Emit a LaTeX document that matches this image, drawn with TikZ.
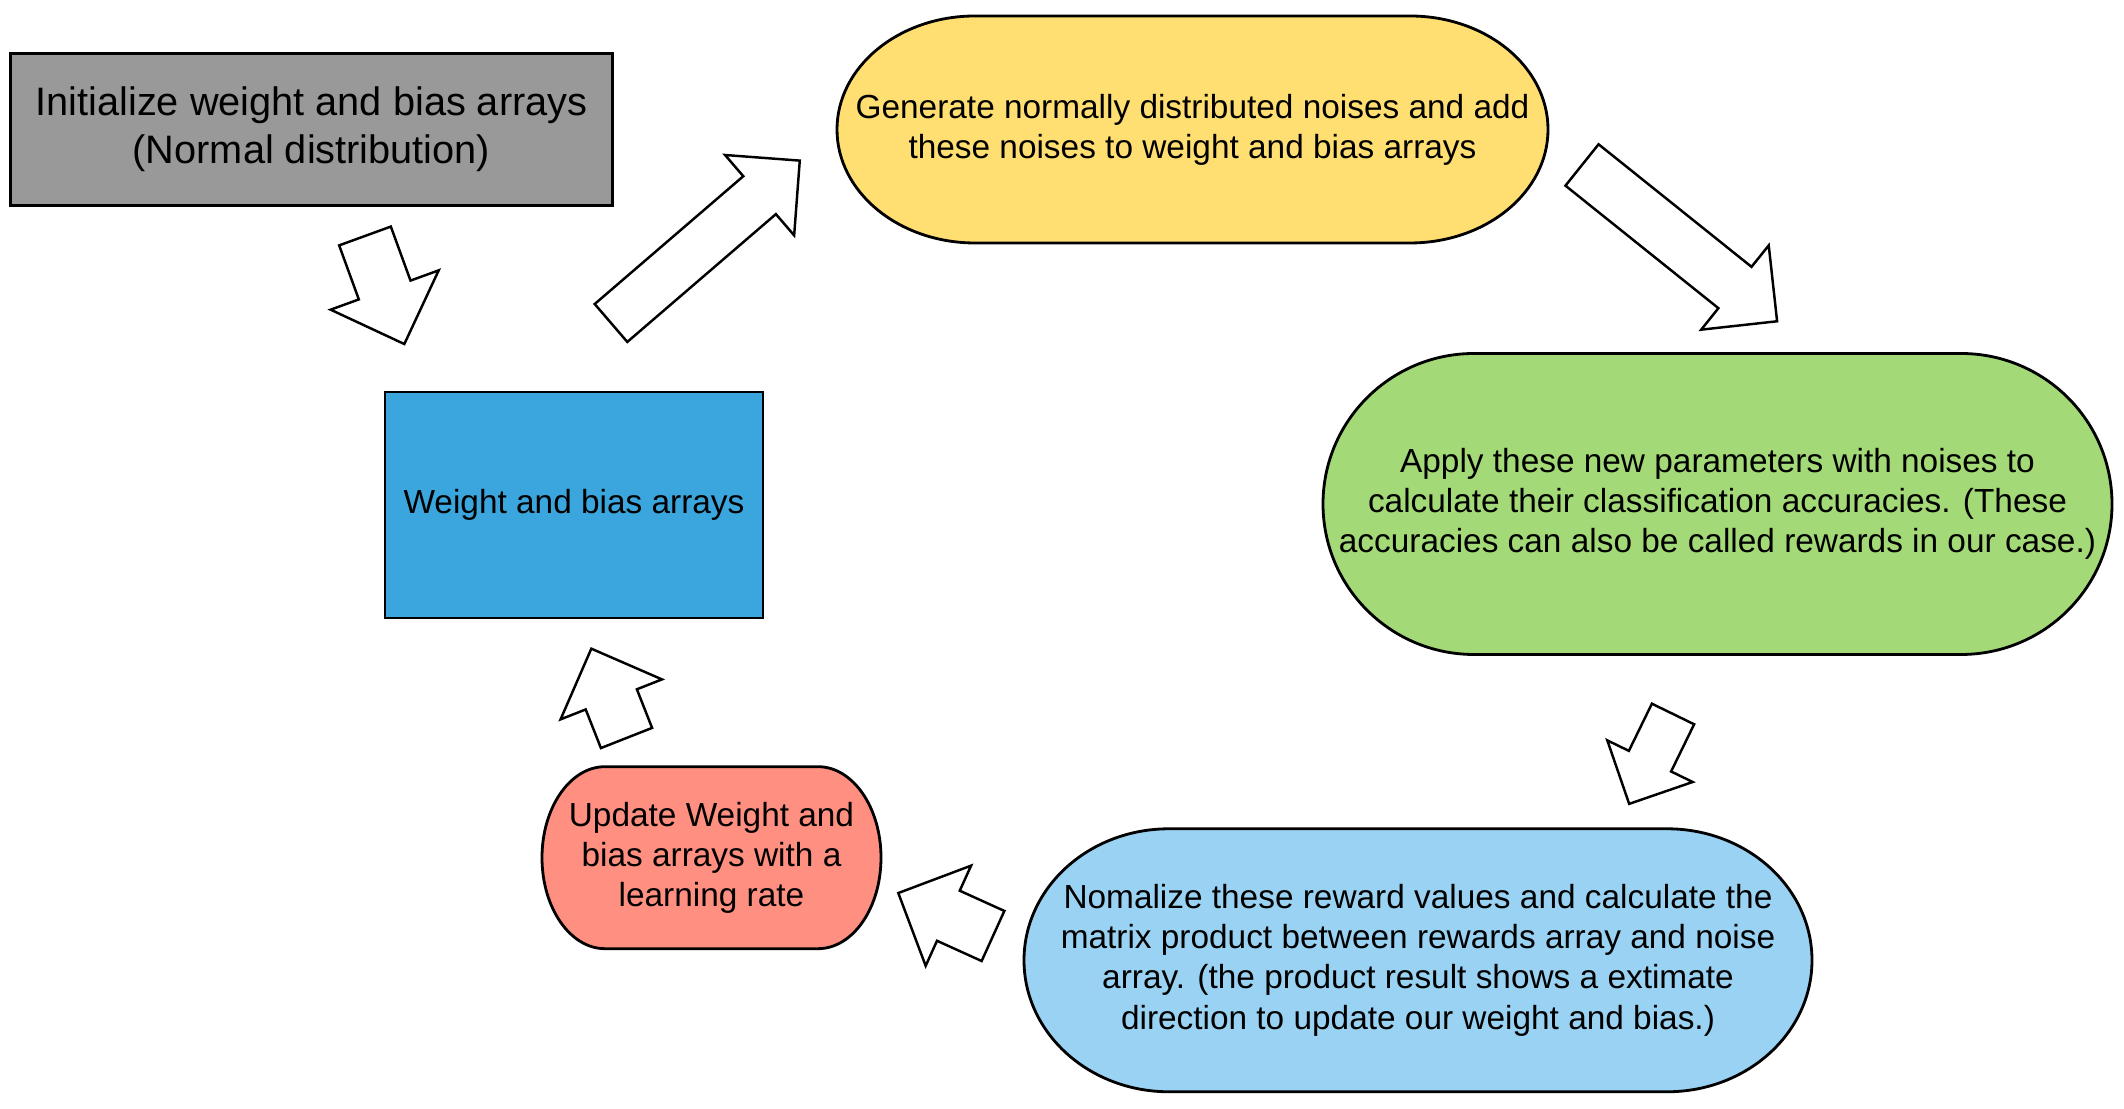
\documentclass[tikz,border=0pt]{standalone}
\usepackage{fontspec}
\setmainfont{Liberation Sans}
\usetikzlibrary{backgrounds,calc}

\definecolor{lgrey}{HTML}{999999}
\definecolor{lyellow}{HTML}{FFDF71}
\definecolor{lgreen}{HTML}{A3D977}
\definecolor{lblue}{HTML}{3AA6DD}
\definecolor{lsky}{HTML}{99D2F2}
\definecolor{lsalmon}{HTML}{FF8F80}

\tikzset{
    box/.style={draw, line width=0.8pt, inner sep=0pt, align=center,
        font=\fontsize{9.5}{11.4}\selectfont},
    term/.style={inner sep=0pt, outer sep=0pt, align=center,
        font=\fontsize{9.5}{11.4}\selectfont},
    fat/.style={draw, line width=0.7pt, fill=white, line join=miter},
}

\begin{document}
\begin{tikzpicture}
                \useasboundingbox (0, 0) rectangle (21.24, 11.09);
                \node [box, fill=lgrey, minimum width=6.02cm, minimum height=1.52cm,
                    font=\fontsize{11.3}{13.7}\selectfont] (init) at (3.115, 9.795)
                    {Initialize weight and bias arrays\\(Normal distribution)};
                \node [box, fill=lblue, minimum width=3.78cm, minimum height=2.26cm]
                    (wba) at (5.74, 6.04) {Weight and bias arrays};
                \node [term, minimum width=7.11cm, minimum height=2.27cm] (gen) at (11.925, 9.795)
                    {Generate normally distributed noises and add\\these noises to weight and bias arrays};
                \node [term, minimum width=7.89cm, minimum height=3.01cm] (apply) at (17.175, 6.05)
                    {Apply these new parameters with noises to\\calculate their classification accuracies. (These\\accuracies can also be called rewards in our case.)};
                \node [term, minimum width=7.88cm, minimum height=2.63cm] (norm) at (14.18, 1.487)
                    {Nomalize these reward values and calculate the\\matrix product between rewards array and noise\\array. (the product result shows a extimate\\direction to update our weight and bias.)};
                \node [term, minimum width=3.39cm, minimum height=1.82cm] (upd) at (7.115, 2.513)
                    {Update Weight and\\bias arrays with a\\learning rate};
                \begin{scope}[on background layer]
                    \foreach \n/\c/\rx/\ry in {gen/lyellow/1.38/1.135, apply/lgreen/1.51/1.505,
                        norm/lsky/1.45/1.315, upd/lsalmon/0.63/0.91}
                        \draw [line width=0.8pt, fill=\c] ($(\n.south west) + (\rx, 0)$)
                            arc [start angle=270, end angle=90, x radius=\rx, y radius=\ry] --
                            ($(\n.north east) + (-\rx, 0)$)
                            arc [start angle=90, end angle=-90, x radius=\rx, y radius=\ry] -- cycle;
                \end{scope}
                \foreach \x/\y/\a/\l/\s/\h in {3.65/8.73/-70/1.15/0.275/0.575,
                    6.11/7.86/40.7/2.49/0.25/0.53, 15.82/9.44/-38.7/2.50/0.265/0.54,
                    16.73/3.95/-116/1.00/0.235/0.475, 9.93/1.73/155.6/1.04/0.275/0.55,
                    6.265/3.71/111.5/0.96/0.275/0.545}
                    \draw [fat, shift={(\x, \y)}, rotate=\a] (0, -\s) -- ({\l - \h}, -\s) --
                        ({\l - \h}, -\h) -- (\l, 0) -- ({\l - \h}, \h) -- ({\l - \h}, \s) --
                        (0, \s) -- cycle;
            \end{tikzpicture}
\end{document}
